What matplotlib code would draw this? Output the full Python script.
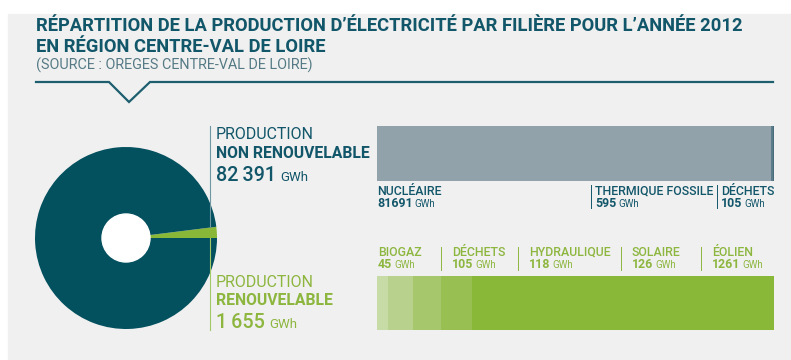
import matplotlib
matplotlib.use("Agg")
import matplotlib.pyplot as plt
from matplotlib.patches import Rectangle, Circle

# Production d'électricité 2012, Centre-Val de Loire (GWh)
nr_names = ['NUCLÉAIRE', 'THERMIQUE FOSSILE', 'DÉCHETS']
nr_gwh = [81691, 595, 105]
r_names = ['BIOGAZ', 'DÉCHETS', 'HYDRAULIQUE', 'SOLAIRE', 'ÉOLIEN']
r_gwh = [45, 105, 118, 126, 1261]

nr_total = sum(nr_gwh)
r_total = sum(r_gwh)

W, H = 791, 360
FAM = ['Roboto', 'DejaVu Sans']
TEAL = '#03505f'
TEAL_TXT = '#12566a'
GREEN = '#89b738'
GREEN_TXT = '#8db63f'
nr_colors = ['#91a2ab', '#5b7c8b', '#4a6b79']
r_colors = ['#c6dba5', '#b8d28e', '#a6c76b', '#97bf52', '#89b738']


def fmt(v):
    return '{:,}'.format(v).replace(',', '\u2009')


fig = plt.figure(figsize=(W / 100, H / 100), dpi=100, facecolor='white')
ax = fig.add_axes([0, 0, 1, 1])
renderer = fig.canvas.get_renderer()

# donut
ax.pie([r_total, nr_total], colors=[GREEN, TEAL], center=(126, 238), radius=91,
       startangle=0, counterclock=False, frame=True)
ax.add_patch(Circle((126, 238), 24, color='white', zorder=3))
ax.add_patch(Rectangle((8, 14), W - 8, H - 14, color='#f0f0f0', zorder=-5))
ax.set_xlim(0, W)
ax.set_ylim(H, 0)
ax.axis('off')


def txt(x, y, s, size, color, weight='normal'):
    return ax.text(x, y, s, fontsize=size, color=color, fontweight=weight,
                   family=FAM, va='baseline', ha='left')


def value(x, y, s, size, small, color, weight='bold', gap=2):
    t = txt(x, y, s, size, color, weight)
    bb = t.get_window_extent(renderer)
    txt(bb.x1 + gap, y, 'GWh', small, color)


# header
txt(36, 31, 'RÉPARTITION DE LA PRODUCTION D’ÉLECTRICITÉ PAR FILIÈRE POUR L’ANNÉE 2012',
    13.2, TEAL_TXT, 'bold')
txt(36, 52, 'EN RÉGION CENTRE-VAL DE LOIRE', 13.2, TEAL_TXT, 'bold')
txt(36, 70, '(SOURCE : OREGES CENTRE-VAL DE LOIRE)', 10.4, '#557a85')
ax.plot([36, 109, 129, 150, 773], [82, 82, 102, 82, 82], color='#1d5f6f', lw=1.6,
        solid_joinstyle='miter')

# totals
ax.plot([210, 210], [126, 226], color='#6f98a3', lw=0.8)
ax.plot([210, 210], [238, 330], color='#a3c866', lw=0.8)
txt(216, 139, 'PRODUCTION', 11.5, TEAL_TXT)
txt(216, 158, 'NON RENOUVELABLE', 11.3, TEAL_TXT, 'bold')
value(216, 181, fmt(nr_total), 14.2, 9.5, TEAL_TXT, 'medium', 4)
txt(216, 287, 'PRODUCTION', 11.5, GREEN_TXT)
txt(216, 305, 'RENOUVELABLE', 11.3, GREEN_TXT, 'bold')
value(216, 328, fmt(r_total), 14.2, 9.5, GREEN_TXT, 'medium', 4)

# stacked bars
for vals, cols, y0, y1 in [(nr_gwh, nr_colors, 126, 181), (r_gwh, r_colors, 276, 330)]:
    bax = fig.add_axes([377 / W, 1 - y1 / H, 397 / W, (y1 - y0) / H])
    left = 0
    for v, c in zip(vals, cols):
        bax.barh(0, v, left=left, height=1, color=c, linewidth=0)
        left += v
    bax.set_xlim(0, left)
    bax.set_ylim(-0.5, 0.5)
    bax.axis('off')

# segment labels
nr_x = [377, 595, 721]
for i, (name, v) in enumerate(zip(nr_names, nr_gwh)):
    if i > 0:
        ax.plot([nr_x[i] - 4] * 2, [185, 208], color=TEAL_TXT, lw=0.7)
    txt(nr_x[i], 195, name, 8.9, TEAL_TXT, 'medium')
    value(nr_x[i], 207, str(v), 8.9, 7, TEAL_TXT)

r_x = [378, 452, 529, 632, 712]
for i, (name, v) in enumerate(zip(r_names, r_gwh)):
    if i > 0:
        ax.plot([r_x[i] - 11] * 2, [247, 270], color=GREEN_TXT, lw=0.7)
    txt(r_x[i], 256, name, 8.9, GREEN_TXT, 'medium')
    value(r_x[i], 268, str(v), 8.9, 7, GREEN_TXT)

fig.savefig('out.png', dpi=100, facecolor='white')
